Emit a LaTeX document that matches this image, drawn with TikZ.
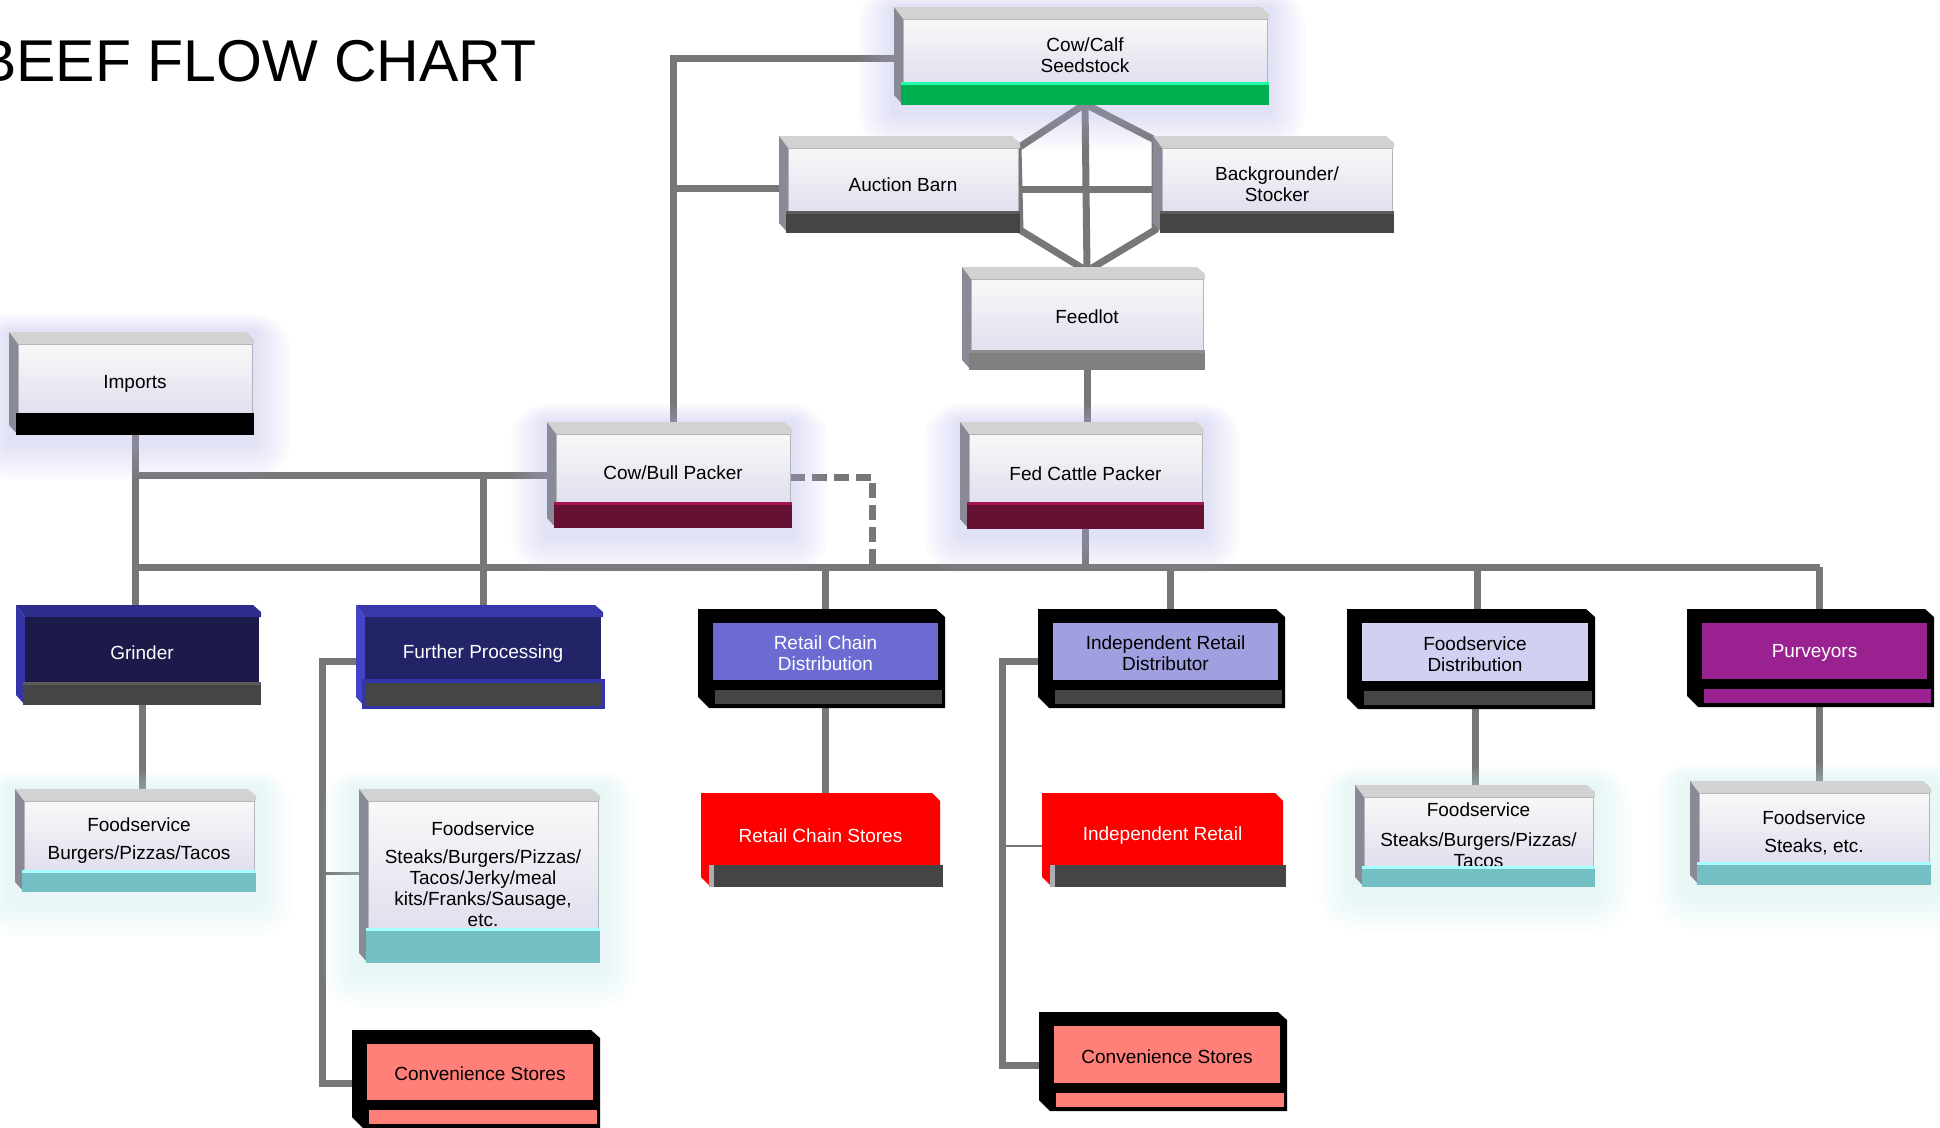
\documentclass[tikz,border=0pt]{standalone}
\usepackage{fontspec}
\setmainfont{Liberation Sans}
\usetikzlibrary{calc}

\definecolor{linegray}{HTML}{777777}
\definecolor{bevtop}{HTML}{D2D2D2}
\definecolor{bevleft}{HTML}{8A8A96}
\definecolor{facetop}{HTML}{F8F8F8}
\definecolor{facebot}{HTML}{E0E0EF}
\definecolor{faceedge}{HTML}{B4B4BC}
\definecolor{bardark}{HTML}{454545}
\definecolor{barhi}{HTML}{5C5C5C}
\definecolor{calfgreen}{HTML}{00B050}
\definecolor{calfhi}{HTML}{1EFFA8}
\definecolor{feedbar}{HTML}{808080}
\definecolor{feedhi}{HTML}{8E8E8E}
\definecolor{maroon}{HTML}{661133}
\definecolor{maroonhi}{HTML}{A3134F}
\definecolor{tealbar}{HTML}{74BFC4}
\definecolor{tealhi}{HTML}{A6FFFF}
\definecolor{navyface}{HTML}{1B1A48}
\definecolor{navytop}{HTML}{2D2D8C}
\definecolor{navyleft}{HTML}{3434A8}
\definecolor{fpface}{HTML}{232368}
\definecolor{fptop}{HTML}{3838AA}
\definecolor{fpleft}{HTML}{4343C9}
\definecolor{fpblue}{HTML}{3333AA}
\definecolor{rcdcol}{HTML}{6B6BD2}
\definecolor{irdcol}{HTML}{A09FE0}
\definecolor{fsdcol}{HTML}{D1D0F2}
\definecolor{purvcol}{HTML}{9A2290}
\definecolor{convcol}{HTML}{FF7F79}
\definecolor{redcol}{HTML}{FF0000}
\definecolor{lavglow}{HTML}{B4B4EC}
\definecolor{cyanglow}{HTML}{C4EEF4}

\pgfdeclarelayer{background}
\pgfsetlayers{background,main}

\tikzset{
    conn/.style={draw=linegray, line width=7pt},
    thinconn/.style={draw=linegray, line width=2.5pt},
    dashconn/.style={conn, dash pattern=on 15pt off 7pt},
    boxtext/.style={align=center, font=\fontsize{19}{21}\selectfont, inner sep=0pt, outer sep=0pt},
    boxface/.style={inner sep=0pt, outer sep=0pt, anchor=north west},
    barh/.store in=\barh, barh=22,
    txtdy/.store in=\txtdy, txtdy=5,
    barcol/.style={barfill/.style={fill=#1}},
    hicol/.style={hifill/.style={fill=#1}},
    facecol/.style={facefill/.style={fill=#1}},
    glowcol/.style={glowfill/.style={fill=#1, opacity=0.045}},
    barfill/.style={fill=bardark},
    hifill/.style={fill=barhi},
    facefill/.style={fill=white},
    glowfill/.style={opacity=0},
    topfill/.style={fill=bevtop},
    leftfill/.style={fill=bevleft},
    lite/.style={facefill/.style={top color=facetop, bottom color=facebot, draw=faceedge, line width=1pt}},
    navy/.style={topfill/.style={fill=navytop}, leftfill/.style={fill=navyleft}, facefill/.style={fill=navyface}, text=white},
}

% name, left, top, right, face bottom, options, text
\newcommand{\bevbox}[7]{%
    \begin{scope}[#6]
        \foreach \g in {4,8,...,36}
            \fill[glowfill, rounded corners=\g] (#2-9-\g,#3-12-\g/2) rectangle (#4+2+\g,#5+\barh+8+\g);
        \fill[topfill] (#2-9,#3-12) -- (#4-6,#3-12) -- (#4+2,#3-5) -- (#4+2,#3) -- (#2,#3) -- cycle;
        \fill[leftfill] (#2-9,#3-12) -- (#2,#3) -- (#2,#5+\barh) -- (#2-9,#5+\barh-10) -- cycle;
        \node[boxface, facefill, minimum width=#4-#2, minimum height=#5-#3] (#1) at (#2,#3) {};
        \node[boxtext] (#1txt) at ($(#1.center)+(0,\txtdy)$) {#7};
        \fill[barfill] (#2-2,#5) rectangle (#4+2,#5+\barh);
        \fill[hifill] (#2-2,#5) rectangle (#4+2,#5+3);
    \end{scope}}
\newcommand{\frmbox}[7]{%
    \begin{scope}[txtdy=2, #6]
        \fill[black] (#2-15,#3-14) -- (#4-2,#3-14) -- (#4+7,#3-6) -- (#4+7,#5+28) -- (#2-4,#5+28) -- (#2-15,#5+17) -- cycle;
        \node[boxface, facefill, minimum width=#4-#2, minimum height=#5-#3] (#1) at (#2,#3) {};
        \node[boxtext] (#1txt) at ($(#1.center)+(0,\txtdy)$) {#7};
        \fill[barfill] (#2+2,#5+10) rectangle (#4+4,#5+24);
    \end{scope}}
\newcommand{\redbox}[6]{%
    \fill[redcol] (#2,#3) -- (#4-8,#3) -- (#4,#3+8) -- (#4,#5+12) -- (#2+10,#5+22) -- (#2,#5+12) -- cycle;
    \node[boxface, minimum width=#4-#2, minimum height=#5-#3] (#1) at (#2,#3) {};
    \node[boxtext, text=white] (#1txt) at ($(#1.center)+(0,7)$) {#6};
    \fill[bardark] (#2+8,#5) rectangle (#4+3,#5+22);
    \fill[bevleft!70!white] (#2+8,#5) rectangle (#2+13,#5+22);}

\begin{document}
\begin{tikzpicture}[x=1pt, y=-1pt]
    \useasboundingbox (0,0) rectangle (1940,1127);
    \node[anchor=base east, font=\fontsize{59}{59}\selectfont] (title) at (540,81) {BEEF FLOW CHART};

    % producers
    \bevbox{calf}{903}{19}{1267}{82}{lite, barh=23, barcol=calfgreen, hicol=calfhi, glowcol=lavglow}{Cow/Calf\\Seedstock}
    \bevbox{auction}{788}{148}{1018}{211}{lite}{Auction Barn}
    \bevbox{backgr}{1162}{148}{1392}{211}{lite}{Backgrounder/\\Stocker}
    \bevbox{feedlot}{971}{279}{1203}{350}{lite, barh=20, barcol=feedbar, hicol=feedhi, txtdy=2}{Feedlot}
    \bevbox{imports}{18}{344}{252}{413}{lite, barcol=black, hicol=black, glowcol=lavglow}{Imports}
    \bevbox{cowbull}{556}{434}{790}{502}{lite, barh=26, barcol=maroon, hicol=maroonhi, glowcol=lavglow}{Cow/Bull Packer}
    \bevbox{fedcattle}{969}{434}{1202}{502}{lite, barh=27, barcol=maroon, hicol=maroonhi, glowcol=lavglow, txtdy=6}{Fed Cattle Packer}

    % processors and distributors
    \bevbox{grinder}{25}{617}{259}{682}{navy, barh=23, txtdy=3}{Grinder}
    \bevbox{furtherp}{365}{617}{601}{680}{navy, barh=27, facecol=fpface, topfill/.style={fill=fptop}, leftfill/.style={fill=fpleft}, barfill/.style={fill=bardark, draw=fpblue, line width=3pt}, hicol=fpblue}{Further Processing}
    \frmbox{rcdist}{713}{623}{938}{680}{facecol=rcdcol, text=white}{Retail Chain\\Distribution}
    \frmbox{irdist}{1053}{623}{1278}{680}{facecol=irdcol}{Independent Retail\\Distributor}
    \frmbox{fsdistr}{1362}{623}{1588}{681}{facecol=fsdcol}{Foodservice\\Distribution}
    \frmbox{purv}{1702}{623}{1927}{679}{facecol=purvcol, barcol=purvcol, text=white}{Purveyors}

    % outlets
    \bevbox{fsgrind}{24}{801}{254}{870}{lite, barcol=tealbar, hicol=tealhi, glowcol=cyanglow}{Foodservice\\[7pt]Burgers/Pizzas/Tacos}
    \bevbox{fsproc}{368}{801}{598}{928}{lite, barh=35, barcol=tealbar, hicol=tealhi, glowcol=cyanglow, txtdy=10}{Foodservice\\[7pt]Steaks/Burgers/Pizzas/\\Tacos/Jerky/meal\\kits/Franks/Sausage,\\etc.}
    \redbox{rcstore}{701}{793}{940}{865}{Retail Chain Stores}
    \redbox{indret}{1042}{793}{1283}{865}{Independent Retail}
    \bevbox{fsdist}{1364}{797}{1593}{866}{lite, barh=21, barcol=tealbar, hicol=tealhi, glowcol=cyanglow, txtdy=4}{Foodservice\\[9pt]Steaks/Burgers/Pizzas/\\Tacos}
    \bevbox{fspurv}{1699}{793}{1929}{862}{lite, barh=23, barcol=tealbar, hicol=tealhi, glowcol=cyanglow}{Foodservice\\[7pt]Steaks, etc.}
    \frmbox{convl}{367}{1044}{593}{1100}{facecol=convcol, barcol=convcol}{Convenience Stores}
    \frmbox{convr}{1054}{1026}{1280}{1083}{facecol=convcol, barcol=convcol}{Convenience Stores}

    \begin{pgfonlayer}{background}
        \fill[white] (0,0) rectangle (1940,1127);
        \coordinate (hextop) at ($(calf.south)+(0,22)$);
        \coordinate (hexbot) at ($(feedlot.north)+(0,-8)$);
        \coordinate (cbjoin) at ($(cowbull.west)+(0,7)$);
        \coordinate (bus) at ($(fedcattle.south)+(0,65)$);
        \coordinate (dashend) at ($(cowbull.east)+(82,0)$);
        \coordinate (fpspine) at ($(furtherp.west)+(-43,13)$);
        \coordinate (irspine) at ($(irdist.west)+(-51,10)$);
        \coordinate (purvdrop) at ($(purv.north)+(5,0)$);

        \draw[conn] ($(calf.west)+(0,8)$) -| (cowbull.north);
        \draw[conn] ($(auction.west)+(0,9)$) -| (cowbull.north);
        \draw[conn] (hextop) -- (hexbot);
        \draw[conn] (auction.north east) -- (hextop) -- ($(backgr.north west)+(-7,-8)$)
            -- ($(backgr.south west)+(-7,19)$) -- (hexbot) -- ($(auction.south east)+(2,19)$) -- cycle;
        \draw[conn] ($(auction.east)+(0,10)$) -- ($(backgr.west)+(0,10)$);
        \draw[conn] (feedlot.south) -- (feedlot.south |- fedcattle.north);

        \draw[conn] (imports.south) -- (imports.south |- grinder.north);
        \draw[conn] (cbjoin) -- (cbjoin -| imports.south);
        \draw[conn] (cbjoin -| furtherp.north) -- (furtherp.north);
        \draw[conn] (bus -| imports.south) -- (bus -| purvdrop);
        \draw[conn] (fedcattle.south) -- (fedcattle.south |- bus);
        \foreach \n/\dx in {rcdist/0, irdist/5, fsdistr/2, purv/5}
            \draw[conn] ($(bus -| \n.north)+(\dx,0)$) -- ($(\n.north)+(\dx,0)$);
        \draw[dashconn] ($(cowbull.east)+(0,9)$) -| (dashend |- bus);

        \draw[conn] (grinder.south) -- (grinder.south |- fsgrind.north);
        \draw[conn] (fpspine -| furtherp.west) -- (fpspine) |- ($(convl.west)+(0,11)$);
        \draw[thinconn] ($(fsproc.west)+(0,9)$) -| (fpspine);
        \draw[conn] (rcdist.south) -- (rcdist.south |- rcstore.north);
        \draw[conn] (irspine -| irdist.west) -- (irspine) |- ($(convr.west)+(0,11)$);
        \draw[thinconn] ($(indret.west)+(0,17)$) -| (irspine);
        \draw[conn] (fsdistr.south) -- (fsdistr.south |- fsdist.north);
        \draw[conn] (purvdrop |- purv.south) -- (purvdrop |- fspurv.north);
    \end{pgfonlayer}
\end{tikzpicture}
\end{document}
